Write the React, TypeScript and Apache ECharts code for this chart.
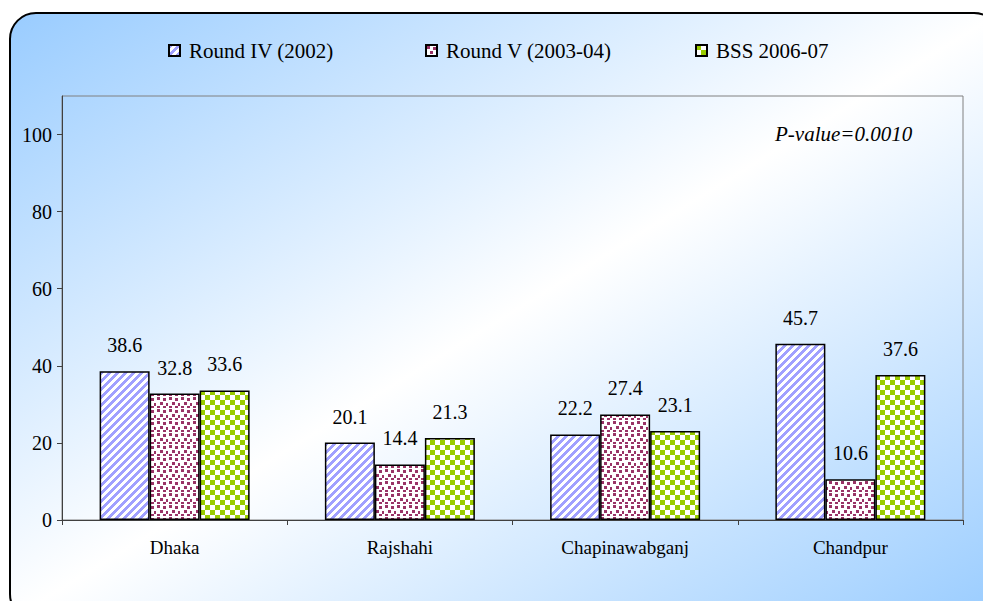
import React, { useEffect, useRef } from "react";
import * as echarts from "echarts";

const categories = ["Dhaka", "Rajshahi", "Chapinawabganj", "Chandpur"];
const seriesNames = ["Round IV (2002)", "Round V (2003-04)", "BSS 2006-07"];
const round4 = [38.6, 20.1, 22.2, 45.7];
const round5 = [32.8, 14.4, 27.4, 10.6];
const bss = [33.6, 21.3, 23.1, 37.6];
const yTicks = [0, 20, 40, 60, 80, 100];
const annotation = "P-value=0.0010";

const FONT = "Liberation Serif";

function makeCanvas(w: number, h: number, draw: (ctx: CanvasRenderingContext2D) => void) {
  const c = document.createElement("canvas");
  c.width = w;
  c.height = h;
  const ctx = c.getContext("2d")!;
  draw(ctx);
  return c;
}

function stripePattern() {
  return makeCanvas(8, 8, (ctx) => {
    ctx.fillStyle = "#ffffff";
    ctx.fillRect(0, 0, 8, 8);
    ctx.fillStyle = "#a0a0ff";
    for (let y = 0; y < 8; y++) {
      for (let x = 0; x < 8; x++) {
        if ((x + y) % 8 < 4) ctx.fillRect(x, y, 1, 1);
      }
    }
  });
}

function dotPattern() {
  return makeCanvas(12, 12, (ctx) => {
    ctx.fillStyle = "#ffffff";
    ctx.fillRect(0, 0, 12, 12);
    ctx.fillStyle = "#993366";
    const pts = [
      [1, 1],
      [7, 2],
      [4, 6],
      [10, 7],
      [1, 10],
      [7, 10],
    ];
    pts.forEach(([x, y]) => ctx.fillRect(x, y, 3, 3));
  });
}

function checkerPattern() {
  return makeCanvas(10, 10, (ctx) => {
    ctx.fillStyle = "#ffffff";
    ctx.fillRect(0, 0, 10, 10);
    ctx.fillStyle = "#99cc00";
    ctx.fillRect(0, 0, 5, 5);
    ctx.fillRect(5, 5, 5, 5);
  });
}

export default function App() {
  const ref = useRef<HTMLDivElement>(null);

  useEffect(() => {
    if (!ref.current) return;
    const chart = echarts.init(ref.current, undefined, { renderer: "svg" });

    const patterns = [stripePattern(), dotPattern(), checkerPattern()];
    const datasets = [round4, round5, bss];
    const legendLeft = [163, 420, 690];

    const series = datasets.map((d, i) => ({
      name: seriesNames[i],
      type: "bar",
      data: d,
      barWidth: 50,
      barGap: "0%",
      itemStyle: {
        color: { image: patterns[i], repeat: "repeat" } as any,
        borderColor: "#000000",
        borderWidth: 1.5,
      },
      label: {
        show: true,
        position: "top",
        distance: 16,
        color: "#000",
        fontFamily: FONT,
        fontSize: 20,
        formatter: (p: any) => Number(p.value).toFixed(1),
      },
    }));

    chart.setOption({
      animation: false,
      graphic: [
        {
          type: "rect",
          z: -10,
          shape: { x: 10, y: 13, width: 990, height: 607, r: 26 },
          style: {
            fill: {
              type: "linear",
              x: 0,
              y: 0,
              x2: 1,
              y2: 1,
              colorStops: [
                { offset: 0, color: "#99ccff" },
                { offset: 0.5, color: "#ffffff" },
                { offset: 1, color: "#99ccff" },
              ],
            },
            stroke: "#000000",
            lineWidth: 2,
          },
        },
        {
          type: "text",
          left: 775,
          top: 123,
          style: {
            text: annotation,
            fontFamily: FONT,
            fontStyle: "italic",
            fontSize: 21,
            fill: "#000",
          },
        },
      ],
      legend: seriesNames.map((n, i) => ({
        top: 35,
        left: legendLeft[i],
        itemWidth: 11,
        itemHeight: 11,
        icon: "rect",
        textStyle: { fontFamily: FONT, fontSize: 21, color: "#000", padding: [0, 0, 0, 4] },
        data: [n],
      })),
      grid: {
        left: 62,
        top: 96,
        right: 20,
        bottom: 81,
        show: true,
        borderColor: "#808080",
        borderWidth: 1,
        backgroundColor: "transparent",
      },
      xAxis: {
        type: "category",
        data: categories,
        axisLine: { lineStyle: { color: "#404040", width: 1 } },
        axisTick: { show: true, length: 5, alignWithLabel: false, lineStyle: { color: "#404040" } },
        axisLabel: { color: "#000", fontFamily: FONT, fontSize: 19, margin: 18 },
      },
      yAxis: {
        type: "value",
        min: 0,
        max: 110,
        interval: 10,
        splitLine: { show: false },
        axisLine: { show: true, lineStyle: { color: "#404040", width: 1 } },
        axisTick: { show: true, length: 5, customValues: yTicks, lineStyle: { color: "#404040" } },
        axisLabel: { color: "#000", fontFamily: FONT, fontSize: 20, margin: 10, customValues: yTicks },
      },
      series,
    } as any);

    return () => chart.dispose();
  }, []);

  return (
    <div
      ref={ref}
      style={{ position: "absolute", left: 0, top: 0, width: 983, height: 601 }}
    />
  );
}
